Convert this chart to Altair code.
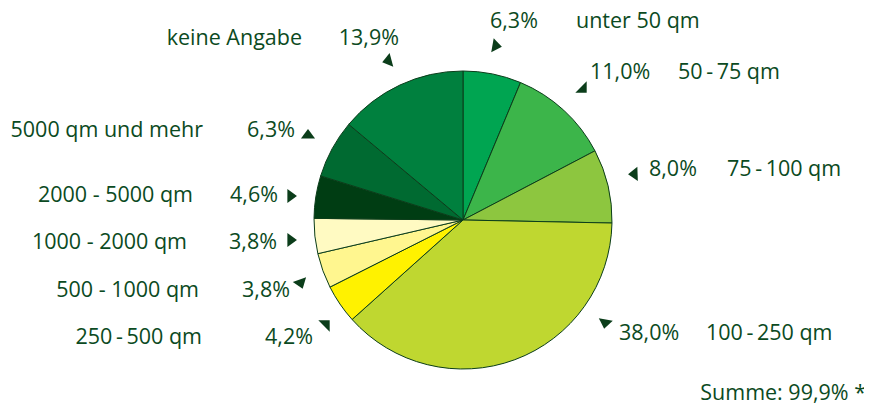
import altair as alt
import pandas as pd

# ---- data ----
categories = ["unter 50 qm", "50\u2009-\u200975 qm", "75\u2009-\u2009100 qm", "100\u2009-\u2009250 qm",
              "250\u2009-\u2009500 qm", "500 - 1000 qm", "1000 - 2000 qm", "2000 - 5000 qm",
              "5000 qm und mehr", "keine Angabe"]
shares = [6.3, 11.0, 8.0, 38.0, 4.2, 3.8, 3.8, 4.6, 6.3, 13.9]
pct_labels = ["6,3%", "11,0%", "8,0%", "38,0%", "4,2%", "3,8%", "3,8%", "4,6%", "6,3%", "13,9%"]
colors = ["#00a551", "#3cb54a", "#8dc63f", "#bfd730", "#fff200", "#fff68f",
          "#fffac2", "#003d13", "#006a31", "#00803e"]
total_label = "Summe: 99,9% *"

# ---- layout (page pixel coordinates of annotations) ----
OFF = 8
CX, CY, R = 463 - OFF, 220 - OFF, 149
TXT = "#0b4a22"
name_pos = [(576, 22, "left"), (678, 73, "left"), (727, 170, "left"), (706, 334, "left"),
            (202, 338, "right"), (199, 291, "right"), (187, 243, "right"), (193, 196, "right"),
            (203, 131, "right"), (302, 39, "right")]
pct_pos = [(490, 22, "left"), (590, 73, "left"), (649, 170, "left"), (619, 334, "left"),
           (313, 338, "right"), (290, 291, "right"), (277, 243, "right"), (278, 196, "right"),
           (295, 131, "right"), (399, 39, "right")]
ISO = "M 0 -0.7 L 1 0.65 L -1 0.65 Z"
RT_BR = "M 0.8 -0.8 L 0.8 0.8 L -0.8 0.8 Z"
RT_TR = "M -0.8 -0.8 L 0.8 -0.8 L 0.8 0.8 Z"
# arrow: (x, y, shape, rotation)
arrow_pos = [(497, 46, ISO, 100), (581, 87, RT_BR, 0), (633, 174, ISO, 268), (605, 324, ISO, 190),
             (324, 326, RT_TR, 0), (301, 284, ISO, 160), (292, 240, ISO, 90), (292, 196, ISO, 90),
             (308, 134, ISO, 0), (387, 61, ISO, 255)]

pie_df = pd.DataFrame({"cat": categories, "share": shares, "order": list(range(len(shares)))})

rows = []
for i in range(len(categories)):
    x, y, a = name_pos[i]
    rows.append({"t": categories[i], "x": x - OFF, "y": y - OFF, "align": a})
    x, y, a = pct_pos[i]
    rows.append({"t": pct_labels[i], "x": x - OFF, "y": y - OFF, "align": a})
rows.append({"t": total_label, "x": 866 - OFF, "y": 394 - OFF, "align": "right"})
txt_df = pd.DataFrame(rows)

arr_df = pd.DataFrame([{"x": x - OFF, "y": y - OFF, "shp": s, "ang": a}
                       for (x, y, s, a) in arrow_pos])

pie = alt.Chart(pie_df).mark_arc(stroke="#0b3d1a", strokeWidth=1, outerRadius=R).encode(
    theta=alt.Theta("share:Q", stack=True),
    order=alt.Order("order:Q"),
    color=alt.Color("cat:N", scale=alt.Scale(domain=categories, range=colors), legend=None),
    x=alt.value(CX), y=alt.value(CY),
)

def text_layer(al):
    return alt.Chart(txt_df).transform_filter(alt.datum.align == al).mark_text(
        font="Open Sans", fontSize=21.5, color=TXT, align=al, baseline="middle"
    ).encode(
        x=alt.X("x:Q", scale=None, axis=None),
        y=alt.Y("y:Q", scale=None, axis=None),
        text="t:N",
    )

arrows = alt.Chart(arr_df).mark_point(filled=True, color="#0b3d1a",
                                      size=200, opacity=1, strokeWidth=0).encode(
    x=alt.X("x:Q", scale=None, axis=None),
    y=alt.Y("y:Q", scale=None, axis=None),
    shape=alt.Shape("shp:N", scale=None),
    angle=alt.Angle("ang:Q", scale=None),
)

chart = alt.layer(pie, text_layer("left"), text_layer("right"), arrows).properties(
    width=856, height=396,
    autosize="none",
    padding=0,
    background="white",
).configure_view(strokeWidth=0)

chart.save("out.html", embed_options={"renderer": "svg", "actions": False})
